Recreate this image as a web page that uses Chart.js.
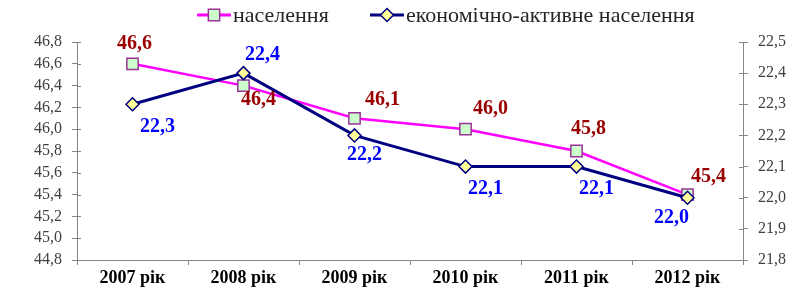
<!DOCTYPE html>
<html>
<head>
<meta charset="utf-8">
<script src="https://cdn.jsdelivr.net/npm/chart.js@4/dist/chart.umd.min.js"></script>
<style>
  body { margin: 0; background: #fff; }
  #wrap { width: 812px; height: 299px; }
</style>
</head>
<body>
<div id="wrap"><canvas id="chart" width="812" height="299"></canvas></div>
<script>
// дані
const years = ['2007 рік', '2008 рік', '2009 рік', '2010 рік', '2011 рік', '2012 рік'];
const population = [46.6, 46.4, 46.1, 46.0, 45.8, 45.4];
const activePopulation = [22.3, 22.4, 22.2, 22.1, 22.1, 22.0];
const leftTicks = [44.8, 45.0, 45.2, 45.4, 45.6, 45.8, 46.0, 46.2, 46.4, 46.6, 46.8];
const rightTicks = [21.8, 21.9, 22.0, 22.1, 22.2, 22.3, 22.4, 22.5];

// зсув підписів від точки (dx, dy)
const popLabelShift = [[2, -20], [15, 14], [28, -18], [25, -20], [12, -22], [21, -18]];
const actLabelShift = [[25, 23], [19, -18], [10, 19], [20, 22], [20, 22], [-16, 20]];

const FONT = '"Liberation Serif", "Times New Roman", serif';
const AXIS = '#868686';
const fmt = v => Number(v).toFixed(1).replace('.', ',');

// підписи значень
const labelPlugin = {
    id: 'valueLabels',
    afterDatasetsDraw(chart) {
        const ctx = chart.ctx;
        ctx.save();
        ctx.font = 'bold 20px ' + FONT;
        ctx.textAlign = 'center';
        ctx.textBaseline = 'middle';
        chart.data.datasets.forEach((ds, i) => {
            const meta = chart.getDatasetMeta(i);
            meta.data.forEach((pt, j) => {
                const s = ds.labelShift[j];
                ctx.fillStyle = ds.labelColor;
                ctx.fillText(fmt(ds.data[j]), pt.x + s[0], pt.y + s[1]);
            });
        });
        ctx.restore();
    }
};

// внутрішні засічки на вертикальних осях
const innerTicks = {
    id: 'innerTicks',
    afterDraw(chart) {
        const ctx = chart.ctx;
        ctx.save();
        ctx.strokeStyle = AXIS;
        ctx.lineWidth = 1;
        [['y', 1], ['y1', -1]].forEach(([id, dir]) => {
            const sc = chart.scales[id];
            const x = id === 'y' ? chart.chartArea.left : chart.chartArea.right;
            sc.ticks.forEach(t => {
                const y = Math.round(sc.getPixelForValue(t.value)) + 0.5;
                ctx.beginPath();
                ctx.moveTo(x, y);
                ctx.lineTo(x + dir * 4, y);
                ctx.stroke();
            });
        });
        ctx.restore();
    }
};

// легенда
const legendPlugin = {
    id: 'topLegend',
    afterDraw(chart) {
        const ctx = chart.ctx;
        const y = 15;
        const items = [{ x: 197, ds: chart.data.datasets[0] }, { x: 370, ds: chart.data.datasets[1] }];
        ctx.save();
        items.forEach(it => {
            const ds = it.ds;
            ctx.strokeStyle = ds.borderColor;
            ctx.lineWidth = 3;
            ctx.beginPath();
            ctx.moveTo(it.x, y);
            ctx.lineTo(it.x + 34, y);
            ctx.stroke();
            ctx.fillStyle = ds.pointBackgroundColor;
            ctx.strokeStyle = ds.pointBorderColor;
            ctx.lineWidth = ds.pointBorderWidth;
            Chart.helpers.drawPoint(ctx, {
                pointStyle: ds.pointStyle,
                radius: ds.pointRadius,
                borderWidth: ds.pointBorderWidth
            }, it.x + 17, y);
            ctx.fillStyle = '#262626';
            ctx.font = '22px ' + FONT;
            ctx.textAlign = 'left';
            ctx.textBaseline = 'middle';
            ctx.fillText(ds.label, it.x + 36, y + 1);
        });
        ctx.restore();
    }
};

const ctx = document.getElementById('chart');
new Chart(ctx, {
    type: 'line',
    data: {
        labels: years,
        datasets: [{
            label: 'населення',
            data: population,
            yAxisID: 'y',
            order: 1,
            borderColor: '#FF00FF',
            borderWidth: 2.5,
            pointStyle: 'rect',
            pointRadius: 8,
            pointBackgroundColor: '#CCFFCC',
            pointBorderColor: '#993399',
            pointBorderWidth: 1.5,
            labelColor: '#990000',
            labelShift: popLabelShift,
            clip: false
        }, {
            label: 'економічно-активне населення',
            data: activePopulation,
            yAxisID: 'y1',
            order: 0,
            borderColor: '#000080',
            borderWidth: 3,
            pointStyle: 'rectRot',
            pointRadius: 6.5,
            pointBackgroundColor: '#FFFF99',
            pointBorderColor: '#000080',
            pointBorderWidth: 1.5,
            labelColor: '#0000FF',
            labelShift: actLabelShift,
            clip: false
        }]
    },
    options: {
        responsive: false,
        animation: false,
        layout: { padding: { top: 42, left: 0, right: 0, bottom: 0 } },
        plugins: {
            legend: { display: false },
            tooltip: { enabled: false }
        },
        scales: {
            x: {
                offset: true,
                grid: { offset: true, drawOnChartArea: false, color: AXIS, tickLength: 5 },
                border: { color: AXIS },
                ticks: { color: '#000', font: { family: FONT, size: 18, weight: 'bold' }, padding: 3, maxRotation: 0 },
                afterFit: s => { s.height = 39; }
            },
            y: {
                position: 'left',
                min: 44.8,
                max: 46.8,
                afterBuildTicks: s => { s.ticks = leftTicks.map(v => ({ value: v })); },
                grid: { drawOnChartArea: false, color: AXIS, tickLength: 5 },
                border: { color: AXIS },
                ticks: { autoSkip: false, color: '#404040', font: { family: FONT, size: 16 }, padding: 10, callback: v => fmt(v) },
                afterFit: s => { s.width = 77; }
            },
            y1: {
                position: 'right',
                min: 21.8,
                max: 22.5,
                afterBuildTicks: s => { s.ticks = rightTicks.map(v => ({ value: v })); },
                grid: { drawOnChartArea: false, color: AXIS, tickLength: 5 },
                border: { color: AXIS },
                ticks: { autoSkip: false, color: '#404040', font: { family: FONT, size: 16 }, padding: 10, callback: v => fmt(v) },
                afterFit: s => { s.width = 69; }
            }
        }
    },
    plugins: [labelPlugin, innerTicks, legendPlugin]
});
</script>
</body>
</html>
